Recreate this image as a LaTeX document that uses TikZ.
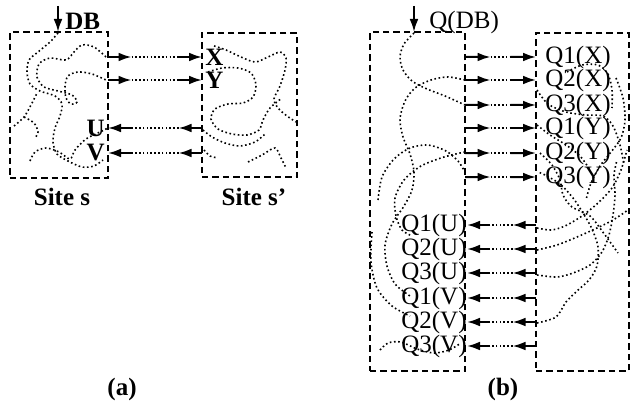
\documentclass[tikz,border=0pt]{standalone}
\usepackage{fontspec}
\setmainfont{Liberation Serif}
\usetikzlibrary{arrows.meta, calc}

% message arrow: solid, dotted, solid
\newcommand{\msg}[3][0.25]{%
  \coordinate (msgS) at (#2);
  \coordinate (msgE) at (#3);
  \draw[arr] (msgS) -- ($(msgS)!#1!(msgE)$);
  \draw[dots] ($(msgS)!#1!(msgE)$) -- ($(msgS)!1-#1!(msgE)$);
  \draw[arr] ($(msgS)!1-#1!(msgE)$) -- (msgE);}

\begin{document}
\begin{tikzpicture}[
  x=0.5pt, y=-0.5pt,
  sitebox/.style={draw, line width=1pt, dash pattern=on 3.2pt off 2pt,
                  inner sep=0pt, outer sep=0pt},
  arr/.style={-{Latex[length=6.5pt, width=4.4pt]}, line width=1pt},
  dots/.style={line width=0.8pt, dash pattern=on 0.8pt off 1.1pt},
  wig/.style={line width=0.8pt, dash pattern=on 0.8pt off 1.3pt},
  lbl/.style={font=\fontsize{12.5}{14}\selectfont\bfseries, inner sep=0pt},
  qlbl/.style={font=\fontsize{12.5}{14}\selectfont, inner sep=0pt}
]
\useasboundingbox (0,0) rectangle (631,401);

% (a) sites
\node[sitebox, minimum width=49pt, minimum height=73pt] (sa) at (59,105) {};
\node[sitebox, minimum width=47.5pt, minimum height=72pt] (sb) at (249.5,105) {};
\node[lbl] (sitea) at (62,197) {Site s};
\node[lbl] (siteb) at (254,197) {Site s'};
\node[lbl] (capa) at (122,389) {(a)};

% DB input
\coordinate (dbtop) at (58,6);
\node[lbl, anchor=west] (db) at (65,21) {DB};
\draw[arr] (dbtop) -- (dbtop |- sa.north);

% fragments
\node[lbl, anchor=west, inner xsep=1.5pt] (X) at (202,57) {X};
\node[lbl, anchor=west, inner xsep=1.5pt] (Y) at (202,80) {Y};
\node[lbl, anchor=east, inner xsep=1.5pt] (U) at (108,128) {U};
\node[lbl, anchor=east, inner xsep=1.5pt] (V) at (108,153) {V};

\msg{sa.east |- X}{X.west}
\msg{sa.east |- Y}{Y.west}
\msg{sb.west |- U}{U.east}
\msg{sb.west |- V}{V.east}

% data inside site s
\draw[wig] plot[smooth] coordinates {(58,33) (50,42) (38,52) (29,60) (27,72) (30,84) (40,91) (55,96) (62,104) (60,116) (55,128) (53,142) (57,154) (68,161) (82,167) (94,166) (103,160)};
\draw[wig] plot[smooth] coordinates {(106,57) (94,47) (82,45) (74,52) (66,60) (50,58) (39,64) (37,77) (44,87) (58,91) (72,95) (77,102) (71,104) (66,98) (65,86) (68,76) (78,72) (92,74) (106,80)};
\draw[wig] plot[smooth] coordinates {(14,126) (24,117) (31,105) (37,93)};
\draw[wig] plot[smooth] coordinates {(24,117) (34,123) (38,132) (35,138)};
\draw[wig] plot[smooth] coordinates {(30,161) (35,152) (46,148) (59,152) (70,159) (75,150) (86,139) (100,132) (108,128)};

% data inside site s'
\draw[wig] plot[smooth] coordinates {(214,46) (226,50) (241,57) (255,62) (268,57) (280,52) (286,58) (285,70) (280,86) (274,99) (278,108) (287,116) (296,122)};
\draw[wig] plot[smooth] coordinates {(208,72) (222,68) (238,68) (251,73) (256,85) (253,97) (243,103) (228,104) (215,109) (211,119) (218,129) (232,134) (247,135) (259,130) (263,120) (270,108) (282,98)};
\draw[wig] plot[smooth] coordinates {(203,130) (212,137) (225,143) (240,146) (255,142) (265,134)};
\draw[wig] plot[smooth] coordinates {(204,150) (210,156) (218,158)};
\draw[wig] plot[smooth] coordinates {(248,162) (262,155) (275,148) (281,158) (286,168)};

% (b) sites
\node[sitebox, minimum width=47.5pt, minimum height=169.5pt] (qa) at (417.5,201.5) {};
\node[sitebox, minimum width=46.5pt, minimum height=169pt] (qb) at (582.5,202) {};
\node[lbl] (capb) at (503,389) {(b)};

% Q(DB) input
\coordinate (qdbtop) at (414,6);
\node[qlbl, anchor=west] (qdb) at (429,22) {Q(DB)};
\draw[arr] (qdbtop) -- (qdbtop |- qa.north);

% query results
\node[qlbl, anchor=west, inner xsep=4.5pt] (q1x) at (536,57) {Q1(X)};
\node[qlbl, anchor=west, inner xsep=4.5pt] (q2x) at (536,80) {Q2(X)};
\node[qlbl, anchor=west, inner xsep=4.5pt] (q3x) at (536,105) {Q3(X)};
\node[qlbl, anchor=west, inner xsep=4.5pt] (q1y) at (536,128) {Q1(Y)};
\node[qlbl, anchor=west, inner xsep=4.5pt] (q2y) at (536,153) {Q2(Y)};
\node[qlbl, anchor=west, inner xsep=4.5pt] (q3y) at (536,177) {Q3(Y)};
\node[qlbl, anchor=east] (q1u) at (467,225) {Q1(U)};
\node[qlbl, anchor=east] (q2u) at (467,249) {Q2(U)};
\node[qlbl, anchor=east] (q3u) at (467,273) {Q3(U)};
\node[qlbl, anchor=east] (q1v) at (467,298) {Q1(V)};
\node[qlbl, anchor=east] (q2v) at (467,322) {Q2(V)};
\node[qlbl, anchor=east] (q3v) at (467,346) {Q3(V)};

\msg[0.36]{qa.east |- q1x}{q1x.west}
\msg[0.36]{qa.east |- q2x}{q2x.west}
\msg[0.36]{qa.east |- q3x}{q3x.west}
\msg[0.36]{qa.east |- q1y}{q1y.west}
\msg[0.36]{qa.east |- q2y}{q2y.west}
\msg[0.36]{qa.east |- q3y}{q3y.west}
\msg[0.34]{qb.west |- q1u}{q1u.east}
\msg[0.34]{qb.west |- q2u}{q2u.east}
\msg[0.34]{qb.west |- q3u}{q3u.east}
\msg[0.34]{qb.west |- q1v}{q1v.east}
\msg[0.34]{qb.west |- q2v}{q2v.east}
\msg[0.34]{qb.west |- q3v}{q3v.east}

% data inside left site
\draw[wig] plot[smooth] coordinates {(414,33) (404,44) (400,57) (403,70) (412,81) (427,89) (445,96) (465,105)};
\draw[wig] plot[smooth] coordinates {(465,80) (448,77) (431,80) (415,88) (405,101) (400,119) (403,137) (410,154) (414,172) (412,190) (404,206) (392,224) (385,245) (387,266) (395,284) (410,296)};
\draw[wig] plot[smooth] coordinates {(378,200) (382,177) (394,159) (410,148) (428,145) (446,151) (458,161) (465,172)};
\draw[wig] plot[smooth] coordinates {(465,152) (444,157) (421,166) (404,180) (395,198) (396,216) (402,230) (412,236)};
\draw[wig] plot[smooth] coordinates {(372,232) (371,262) (377,288) (392,306) (410,316)};
\draw[wig] plot[smooth] coordinates {(380,350) (388,343) (401,342) (417,349) (434,353) (449,350) (461,343)};

% data inside right site
\draw[wig] plot[smooth] coordinates {(567,72) (582,65) (598,65) (608,74) (612,90) (612,108)};
\draw[wig] plot[smooth] coordinates {(537,90) (548,104) (566,112) (586,115) (603,116) (613,126) (620,145) (624,165)};
\draw[wig] plot[smooth] coordinates {(616,78) (623,98) (625,120) (621,138) (611,152) (600,166) (591,183) (586,200)};
\draw[wig] plot[smooth] coordinates {(537,125) (550,135) (566,145) (580,156) (590,170)};
\draw[wig] plot[smooth] coordinates {(540,153) (552,165) (560,180) (563,195) (572,207) (590,216) (605,235) (618,253)};
\draw[wig] plot[smooth] coordinates {(537,228) (551,230) (565,226) (582,216) (598,203) (612,188) (621,170) (627,150)};
\draw[wig] plot[smooth] coordinates {(537,250) (557,245) (577,237) (597,228) (613,220) (628,210)};
\draw[wig] plot[smooth] coordinates {(537,275) (557,277) (573,273) (590,265) (602,252) (609,235) (613,215) (615,195) (614,175) (617,160)};
\draw[wig] plot[smooth] coordinates {(537,323) (556,317) (566,302) (577,291) (589,280) (597,266) (598,247) (592,229) (583,213) (573,198) (560,184) (545,175) (538,172)};

\end{tikzpicture}
\end{document}
